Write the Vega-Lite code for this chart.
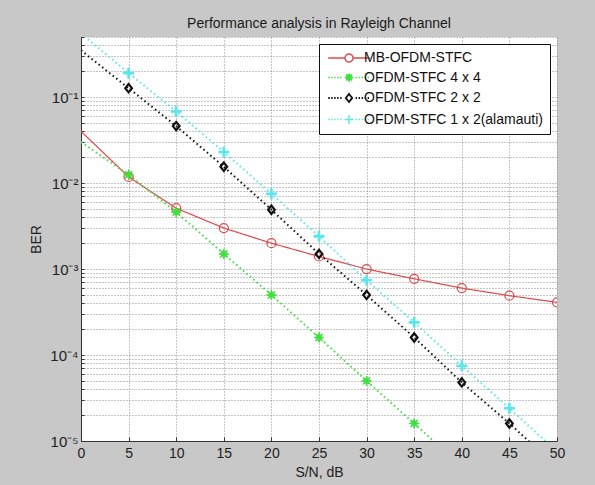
{
  "$schema": "https://vega.github.io/schema/vega-lite/v6.json",
  "width": 476,
  "height": 404,
  "autosize": {"type": "none"},
  "padding": {"left": 81, "top": 37, "right": 38, "bottom": 44},
  "background": "#c8c8c8",
  "config": {
    "view": {"stroke": null, "fill": "white"},
    "font": "Liberation Sans",
    "axis": {
      "domainColor": "#333333",
      "tickColor": "#333333",
      "labelColor": "#222222",
      "titleColor": "#222222",
      "labelFont": "Liberation Sans",
      "titleFont": "Liberation Sans",
      "titleFontWeight": "normal",
      "gridColor": "#8c8c8c",
      "gridDash": [1, 2],
      "gridWidth": 1
    }
  },
  "title": {
    "text": "Performance analysis in Rayleigh Channel",
    "fontSize": 14,
    "fontWeight": "normal",
    "font": "Liberation Sans",
    "color": "#1a1a1a",
    "anchor": "middle",
    "offset": -1
  },
  "data": {
    "values": [
      {"snr": 0, "ber": 0.04, "series": "MB-OFDM-STFC"},
      {"snr": 5, "ber": 0.0118, "series": "MB-OFDM-STFC"},
      {"snr": 10, "ber": 0.0051, "series": "MB-OFDM-STFC"},
      {"snr": 15, "ber": 0.003, "series": "MB-OFDM-STFC"},
      {"snr": 20, "ber": 0.002, "series": "MB-OFDM-STFC"},
      {"snr": 25, "ber": 0.0014, "series": "MB-OFDM-STFC"},
      {"snr": 30, "ber": 0.001, "series": "MB-OFDM-STFC"},
      {"snr": 35, "ber": 0.00077, "series": "MB-OFDM-STFC"},
      {"snr": 40, "ber": 0.0006, "series": "MB-OFDM-STFC"},
      {"snr": 45, "ber": 0.00049, "series": "MB-OFDM-STFC"},
      {"snr": 50, "ber": 0.00041, "series": "MB-OFDM-STFC"},
      {"snr": 0, "ber": 0.03, "series": "OFDM-STFC 4 x 4"},
      {"snr": 5, "ber": 0.0125, "series": "OFDM-STFC 4 x 4"},
      {"snr": 10, "ber": 0.0046, "series": "OFDM-STFC 4 x 4"},
      {"snr": 15, "ber": 0.0015, "series": "OFDM-STFC 4 x 4"},
      {"snr": 20, "ber": 0.0005, "series": "OFDM-STFC 4 x 4"},
      {"snr": 25, "ber": 0.00016, "series": "OFDM-STFC 4 x 4"},
      {"snr": 30, "ber": 0.00005, "series": "OFDM-STFC 4 x 4"},
      {"snr": 35, "ber": 0.000016, "series": "OFDM-STFC 4 x 4"},
      {"snr": 40, "ber": 0.000005, "series": "OFDM-STFC 4 x 4"},
      {"snr": 0, "ber": 0.35, "series": "OFDM-STFC 2 x 2"},
      {"snr": 5, "ber": 0.127, "series": "OFDM-STFC 2 x 2"},
      {"snr": 10, "ber": 0.046, "series": "OFDM-STFC 2 x 2"},
      {"snr": 15, "ber": 0.0155, "series": "OFDM-STFC 2 x 2"},
      {"snr": 20, "ber": 0.0049, "series": "OFDM-STFC 2 x 2"},
      {"snr": 25, "ber": 0.0015, "series": "OFDM-STFC 2 x 2"},
      {"snr": 30, "ber": 0.0005, "series": "OFDM-STFC 2 x 2"},
      {"snr": 35, "ber": 0.00016, "series": "OFDM-STFC 2 x 2"},
      {"snr": 40, "ber": 0.000048, "series": "OFDM-STFC 2 x 2"},
      {"snr": 45, "ber": 0.000016, "series": "OFDM-STFC 2 x 2"},
      {"snr": 50, "ber": 0.000005, "series": "OFDM-STFC 2 x 2"},
      {"snr": 0, "ber": 0.55, "series": "OFDM-STFC 1 x 2(alamauti)"},
      {"snr": 5, "ber": 0.19, "series": "OFDM-STFC 1 x 2(alamauti)"},
      {"snr": 10, "ber": 0.068, "series": "OFDM-STFC 1 x 2(alamauti)"},
      {"snr": 15, "ber": 0.023, "series": "OFDM-STFC 1 x 2(alamauti)"},
      {"snr": 20, "ber": 0.0075, "series": "OFDM-STFC 1 x 2(alamauti)"},
      {"snr": 25, "ber": 0.0024, "series": "OFDM-STFC 1 x 2(alamauti)"},
      {"snr": 30, "ber": 0.00074, "series": "OFDM-STFC 1 x 2(alamauti)"},
      {"snr": 35, "ber": 0.00024, "series": "OFDM-STFC 1 x 2(alamauti)"},
      {"snr": 40, "ber": 0.000075, "series": "OFDM-STFC 1 x 2(alamauti)"},
      {"snr": 45, "ber": 0.000024, "series": "OFDM-STFC 1 x 2(alamauti)"},
      {"snr": 50, "ber": 0.0000075, "series": "OFDM-STFC 1 x 2(alamauti)"}
    ]
  },
  "encoding": {
    "x": {
      "field": "snr",
      "type": "quantitative",
      "scale": {"domain": [0, 50], "nice": false, "zero": false},
      "axis": {
        "title": "S/N, dB",
        "values": [0, 5, 10, 15, 20, 25, 30, 35, 40, 45, 50],
        "labelFontSize": 14,
        "titleFontSize": 14,
        "tickSize": -4,
        "labelPadding": 9,
        "titlePadding": 5,
        "grid": true,
        "labelFlush": false
      }
    },
    "y": {
      "field": "ber",
      "type": "quantitative",
      "scale": {"type": "log", "domain": [0.00001, 0.5], "nice": false},
      "axis": {
        "title": "BER",
        "values": [0.00001, 0.00002, 0.00003, 0.00004, 0.00005, 0.00006, 0.00007, 0.00008, 0.00009,
                   0.0001, 0.0002, 0.0003, 0.0004, 0.0005, 0.0006, 0.0007, 0.0008, 0.0009,
                   0.001, 0.002, 0.003, 0.004, 0.005, 0.006, 0.007, 0.008, 0.009,
                   0.01, 0.02, 0.03, 0.04, 0.05, 0.06, 0.07, 0.08, 0.09,
                   0.1, 0.2, 0.3, 0.4, 0.5],
        "labelExpr": "abs(log(datum.value)/LN10 - round(log(datum.value)/LN10)) < 0.001 ? '10⁻' + ['⁰','¹','²','³','⁴','⁵'][-round(log(datum.value)/LN10)] : ''",
        "labelFontSize": 15,
        "titleFontSize": 14,
        "tickSize": -3,
        "labelPadding": 6,
        "titlePadding": 6,
        "grid": true,
        "labelFlush": false,
        "labelOverlap": false
      }
    }
  },
  "layer": [
    {
      "mark": {"type": "line", "clip": true},
      "encoding": {
        "color": {
          "field": "series",
          "type": "nominal",
          "scale": {
            "domain": ["MB-OFDM-STFC", "OFDM-STFC 4 x 4", "OFDM-STFC 2 x 2", "OFDM-STFC 1 x 2(alamauti)"],
            "range": ["#e04848", "#3ee03e", "#111111", "#55e6ee"]
          },
          "legend": {
            "title": null,
            "orient": "top-right",
            "offset": 7,
            "fillColor": "white",
            "strokeColor": "#111111",
            "padding": 7,
            "labelFont": "Liberation Sans",
            "labelFontSize": 14,
            "labelColor": "#111111",
            "labelLimit": 400,
            "labelAlign": "left",
            "symbolSize": 64,
            "symbolOffset": 16,
            "labelOffset": 8,
            "rowPadding": 5.5,
            "symbolStrokeWidth": 1.5,
            "encode": {
              "symbols": {
                "update": {
                  "shape": {"signal": "datum.value === 'MB-OFDM-STFC' ? 'M-5.2,0L-1,0M1,0L5.2,0M1,0A1,1 0 1 1 -1,0A1,1 0 1 1 1,0' : datum.value === 'OFDM-STFC 4 x 4' ? 'M-5.2,0L-4.8,0M-4.45,0L-4.1,0M-3.7,0L-3.35,0M-2.95,0L-2.6,0M-2.2,0L-1.85,0M1.65,0L2,0M2.4,0L2.75,0M3.15,0L3.5,0M3.9,0L4.25,0M4.65,0L5,0M1,0L0.37,0.15L0.71,0.71L0.15,0.37L0,1L-0.15,0.37L-0.71,0.71L-0.37,0.15L-1,0L-0.37,-0.15L-0.71,-0.71L-0.15,-0.37L0,-1L0.15,-0.37L0.71,-0.71L0.37,-0.15Z' : datum.value === 'OFDM-STFC 2 x 2' ? 'M-5.2,0L-4.8,0M-4.45,0L-4.1,0M-3.7,0L-3.35,0M-2.95,0L-2.6,0M-2.2,0L-1.85,0M1.65,0L2,0M2.4,0L2.75,0M3.15,0L3.5,0M3.9,0L4.25,0M4.65,0L5,0M-0.8,0L0,-1L0.8,0L0,1Z' : 'M-5.2,0L-4.8,0M-4.45,0L-4.1,0M-3.7,0L-3.35,0M-2.95,0L-2.6,0M-2.2,0L-1.85,0M1.65,0L2,0M2.4,0L2.75,0M3.15,0L3.5,0M3.9,0L4.25,0M4.65,0L5,0M-1.1,0L1.1,0M0,-1.1L0,1.1'"},
                  "fill": {"signal": "datum.value === 'OFDM-STFC 4 x 4' ? '#3ee03e' : 'transparent'"},
                  "strokeDash": {"value": [1, 0]},
                  "strokeWidth": {"signal": "datum.value === 'OFDM-STFC 2 x 2' ? 1.8 : 1.4"},
                  "opacity": {"value": 1}
                }
              }
            }
          }
        },
        "strokeDash": {
          "field": "series",
          "type": "nominal",
          "scale": {
            "domain": ["OFDM-STFC 1 x 2(alamauti)", "OFDM-STFC 2 x 2", "OFDM-STFC 4 x 4", "MB-OFDM-STFC"],
            "range": [[1.5, 3], [1.5, 3], [1.5, 3], [1, 0]]
          },
          "legend": null
        },
        "strokeWidth": {
          "field": "series",
          "type": "nominal",
          "scale": {
            "type": "ordinal",
            "domain": ["OFDM-STFC 1 x 2(alamauti)", "OFDM-STFC 2 x 2", "OFDM-STFC 4 x 4", "MB-OFDM-STFC"],
            "range": [2, 2, 2, 1.2]
          },
          "legend": null
        }
      }
    },
    {
      "transform": [{"filter": "datum.snr > 0"}],
      "mark": {"type": "point", "filled": false, "clip": true, "opacity": 1},
      "encoding": {
        "shape": {
          "field": "series",
          "type": "nominal",
          "scale": {
            "domain": ["OFDM-STFC 1 x 2(alamauti)", "OFDM-STFC 2 x 2", "OFDM-STFC 4 x 4", "MB-OFDM-STFC"],
            "range": ["M-1,0L1,0M0,-1L0,1", "M-0.8,0L0,-1L0.8,0L0,1Z", "M1,0L0.37,0.15L0.71,0.71L0.15,0.37L0,1L-0.15,0.37L-0.71,0.71L-0.37,0.15L-1,0L-0.37,-0.15L-0.71,-0.71L-0.15,-0.37L0,-1L0.15,-0.37L0.71,-0.71L0.37,-0.15Z", "circle"]
          },
          "legend": null
        },
        "stroke": {
          "field": "series",
          "type": "nominal",
          "scale": {
            "domain": ["OFDM-STFC 1 x 2(alamauti)", "OFDM-STFC 2 x 2", "OFDM-STFC 4 x 4", "MB-OFDM-STFC"],
            "range": ["#55e6ee", "#111111", "#3ee03e", "#e04848"]
          },
          "legend": null
        },
        "fill": {
          "field": "series",
          "type": "nominal",
          "scale": {
            "domain": ["OFDM-STFC 1 x 2(alamauti)", "OFDM-STFC 2 x 2", "OFDM-STFC 4 x 4", "MB-OFDM-STFC"],
            "range": ["transparent", "transparent", "#3ee03e", "transparent"]
          },
          "legend": null
        },
        "size": {
          "field": "series",
          "type": "nominal",
          "scale": {
            "type": "ordinal",
            "domain": ["OFDM-STFC 1 x 2(alamauti)", "OFDM-STFC 2 x 2", "OFDM-STFC 4 x 4", "MB-OFDM-STFC"],
            "range": [121, 70, 100, 81]
          },
          "legend": null
        },
        "strokeWidth": {
          "field": "series",
          "type": "nominal",
          "scale": {
            "type": "ordinal",
            "domain": ["OFDM-STFC 1 x 2(alamauti)", "OFDM-STFC 2 x 2", "OFDM-STFC 4 x 4", "MB-OFDM-STFC"],
            "range": [2.6, 2.2, 1, 1.2]
          },
          "legend": null
        }
      }
    }
  ],
  "resolve": {"scale": {"strokeWidth": "independent"}}
}
